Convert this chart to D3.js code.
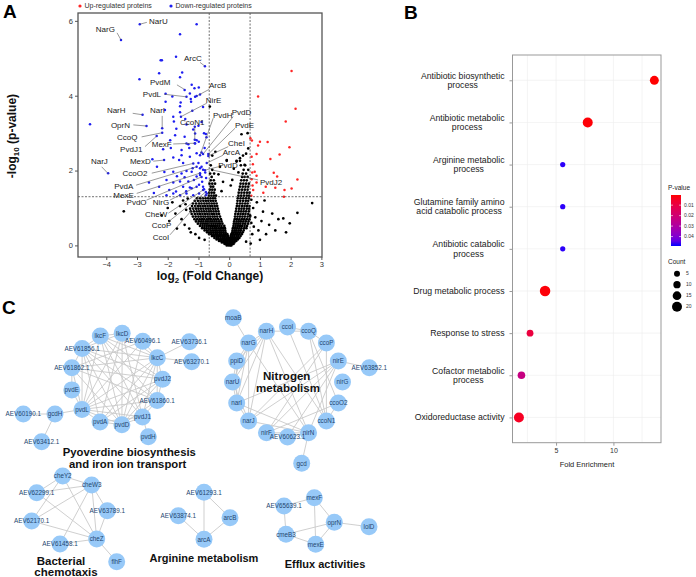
<!DOCTYPE html>
<html><head><meta charset="utf-8">
<script src="https://cdn.jsdelivr.net/npm/d3@7"></script>
<style>body{margin:0;background:#fff}svg{display:block}text{font-family:"Liberation Sans",Arial,sans-serif}</style>
</head><body><svg id="c" width="696" height="577"></svg>
<script>
// ---------------- Panel A data (log2 FC, -log10 p) ----------------
const xTicksA = [-4,-3,-2,-1,0,1,2,3];
const yTicksA = [0,2,4,6];
const fcCut = [-0.65, 0.68];
const pCut = 1.301;
// non-significant proteins, rows of [-log10 p, [log2FC ...]]
const nsRows = [
 [0.00,[-0.08,-0.02,0.03,0.07]],
 [0.04,[-0.15,-0.10,-0.05,0.00,0.05,0.10,0.14]],
 [0.08,[-0.24,-0.18,-0.12,-0.06,0.01,0.06,0.12,0.17]],
 [0.12,[-0.33,-0.26,-0.19,-0.13,-0.07,0.00,0.05,0.11,0.17,0.23]],
 [0.16,[-0.41,-0.34,-0.27,-0.20,-0.14,-0.08,-0.02,0.04,0.10,0.16,0.22,0.28]],
 [0.20,[-0.48,-0.41,-0.35,-0.28,-0.21,-0.15,-0.09,-0.03,0.03,0.09,0.15,0.21,0.27,0.33]],
 [0.25,[-0.56,-0.49,-0.42,-0.36,-0.30,-0.23,-0.17,-0.11,-0.04,0.05,0.11,0.17,0.24,0.30,0.37]],
 [0.30,[-0.65,-0.58,-0.51,-0.44,-0.38,-0.31,-0.25,-0.18,-0.12,-0.06,0.07,0.13,0.20,0.26,0.33,0.41]],
 [0.35,[-0.72,-0.65,-0.59,-0.52,-0.45,-0.39,-0.32,-0.26,-0.19,-0.12,0.10,0.16,0.22,0.29,0.36,0.44]],
 [0.40,[-0.80,-0.73,-0.66,-0.60,-0.53,-0.46,-0.40,-0.33,-0.27,-0.20,-0.13,0.11,0.18,0.24,0.31,0.38,0.47]],
 [0.46,[-0.88,-0.81,-0.74,-0.67,-0.61,-0.54,-0.47,-0.41,-0.34,-0.27,-0.20,-0.14,0.12,0.19,0.26,0.33,0.40,0.49,0.56]],
 [0.52,[-0.95,-0.87,-0.80,-0.73,-0.66,-0.59,-0.53,-0.46,-0.39,-0.32,-0.25,-0.16,0.14,0.21,0.28,0.35,0.42,0.50,0.58]],
 [0.58,[-1.02,-0.93,-0.86,-0.79,-0.72,-0.65,-0.58,-0.51,-0.44,-0.37,-0.30,-0.22,0.15,0.22,0.29,0.36,0.44,0.52,0.61]],
 [0.64,[-1.08,-0.99,-0.91,-0.84,-0.76,-0.69,-0.62,-0.55,-0.48,-0.41,-0.33,-0.25,0.16,0.24,0.31,0.38,0.46,0.54,0.63]],
 [0.70,[-1.13,-1.04,-0.96,-0.88,-0.81,-0.73,-0.66,-0.59,-0.51,-0.44,-0.36,-0.27,0.18,0.25,0.33,0.41,0.49,0.57,0.66]],
 [0.77,[-1.18,-1.09,-1.00,-0.92,-0.84,-0.77,-0.69,-0.62,-0.54,-0.47,-0.39,-0.30,0.19,0.27,0.35,0.43,0.51,0.60,0.68]],
 [0.84,[-1.22,-1.12,-1.03,-0.95,-0.87,-0.79,-0.71,-0.64,-0.56,-0.49,-0.41,-0.33,0.20,0.29,0.37,0.45,0.53,0.62]],
 [0.91,[-1.25,-1.15,-1.06,-0.98,-0.90,-0.82,-0.74,-0.66,-0.59,-0.51,-0.43,-0.35,0.22,0.31,0.39,0.47,0.55,0.64]],
 [0.98,[-1.27,-1.17,-1.08,-1.00,-0.92,-0.84,-0.76,-0.68,-0.61,-0.53,-0.45,-0.37,0.23,0.32,0.40,0.48,0.57,0.65]],
 [1.05,[-1.21,-1.11,-1.02,-0.94,-0.86,-0.78,-0.70,-0.62,-0.55,-0.47,-0.39,0.25,0.33,0.42,0.50,0.58,0.66]],
 [1.12,[-1.18,-1.08,-0.98,-0.90,-0.81,-0.73,-0.65,-0.57,-0.49,-0.41,0.26,0.35,0.43,0.52,0.60]],
 [1.19,[-1.12,-1.02,-0.93,-0.84,-0.76,-0.68,-0.60,-0.52,-0.44,0.27,0.36,0.45,0.54,0.62]],
 [1.26,[-1.05,-0.95,-0.86,-0.77,-0.69,-0.61,-0.53,-0.46,0.28,0.37,0.46,0.55,0.64]],
 [1.33,[-0.66,-0.58,-0.50,-0.43,0.30,0.39,0.48,0.57,0.65]],
 [1.41,[-0.65,-0.57,-0.49,0.31,0.40,0.49,0.58,0.66]],
 [1.49,[-0.63,-0.55,-0.47,0.33,0.42,0.51,0.60]],
 [1.57,[-0.60,-0.52,0.35,0.44,0.53,0.62]],
 [1.65,[-0.64,-0.55,-0.46,0.37,0.46,0.55,0.64]],
 [1.74,[-0.60,-0.50,0.39,0.48,0.57]],
 [1.83,[-0.57,0.42,0.50,0.60]],
 [1.92,[-0.62,-0.49,0.44,0.55]],
 [2.02,[-0.55,0.47,0.62]],
 [2.14,[-0.60,0.38,0.52]],
 [2.26,[-0.08,0.24,0.35]],
 [2.40,[-0.55,0.45]]
];
const nsExtra = [[-1.45,0.55],[-1.55,0.70],[-1.40,0.95],[-1.60,1.05],[-1.50,1.20],[-1.35,1.25],[-1.75,0.85],[-1.85,1.15],
 [-1.70,0.45],[-1.30,0.45],[-2.00,1.00],[-1.95,0.65],[-2.20,0.80],[-1.42,1.10],[-3.43,0.91],[-1.25,0.35],[-1.10,0.30],
 [-0.98,0.20],[-0.80,0.15],[0.75,0.30],[0.80,0.50],[0.85,0.75],[0.78,1.00],[0.90,1.15],[0.95,0.40],[1.05,0.65],[1.10,0.90],
 [1.20,0.30],[1.30,0.55],[1.15,1.20],[0.72,1.22],[1.40,0.85],[1.50,0.40],[1.60,0.70],[1.76,0.72],[1.97,0.59],[2.22,0.87],
 [2.70,1.13],[1.85,0.35],[0.70,0.05],[0.55,0.10],[1.00,0.15],[0.68,0.80],[0.72,0.60],[-0.63,3.71],[0.40,2.97],[0.62,2.59],
 [0.35,2.33],[0.24,2.24],[-0.08,2.28],[0.55,2.45],[0.15,2.05],[0.30,1.95],[-0.20,1.70],[0.10,1.75],[-0.35,1.90],[0.50,2.15],
 [-0.45,2.50],[0.60,3.00],[-0.30,2.10],[0.05,1.60],[-0.25,1.45]];
const downPts = [[-2.91,5.91],[-1.06,5.91],[-1.60,5.64],[-3.52,5.49],[-1.73,5.04],[-2.23,4.95],[-2.19,4.95],[-0.79,4.79],
 [-1.53,4.62],[-2.28,4.60],[-1.60,4.49],[-2.92,4.44],[-1.22,4.29],[-1.13,4.20],[-1.45,4.15],[-0.99,4.22],[-1.28,4.06],
 [-1.39,3.97],[-1.25,3.91],[-1.11,3.97],[-1.06,3.99],[-0.95,4.03],[-2.07,4.05],[-1.85,3.98],[-2.07,3.84],[-1.58,3.82],
 [-2.09,3.62],[-1.60,3.72],[-1.24,3.84],[-2.82,3.49],[-4.53,3.24],[-2.69,3.19],[-2.18,3.13],[-2.18,3.01],[-1.82,3.44],
 [-1.80,3.31],[-1.60,3.56],[-1.57,3.44],[-1.43,3.38],[-1.39,3.23],[-1.72,3.12],[-1.17,3.10],[-1.11,2.99],[-1.06,2.81],
 [-1.11,2.72],[-0.82,3.00],[-0.76,2.98],[-0.74,2.89],[-2.36,2.92],[-1.76,2.94],[-1.92,2.81],[-0.99,2.77],[-1.39,2.72],
 [-1.33,2.70],[-1.12,2.73],[-2.15,2.57],[-1.55,2.55],[-1.06,2.46],[-0.95,2.41],[-0.90,2.48],[-0.85,2.44],[-0.68,2.44],
 [-0.68,2.39],[-3.94,1.93],[-1.63,2.28],[-1.82,2.35],[-1.55,2.41],[-1.28,2.37],[-1.17,2.19],[-1.19,2.06],[-1.22,1.97],
 [-0.95,2.06],[-0.90,2.10],[-0.85,2.02],[-0.73,2.20],[-0.79,2.01],[-2.11,1.96],[-1.82,1.97],[-1.55,1.92],[-1.39,1.99],
 [-2.61,1.68],[-2.04,1.75],[-1.82,1.68],[-1.60,1.71],[-1.33,1.71],[-1.06,1.84],[-0.95,1.88],[-1.06,2.10],[-0.95,1.93],
 [-0.90,1.83],[-2.28,1.57],[-1.95,1.48],[-1.73,1.44],[-1.50,1.57],[-1.22,1.53],[-0.98,1.62],[-0.85,1.57],[-1.06,1.57],
 [-0.85,1.48],[-0.76,1.43],[-0.73,1.39],[-2.04,1.34],[-1.82,1.39],[-1.60,1.34],[-1.39,1.39],[-1.17,1.34],[-0.98,1.39],
 [-0.82,1.50],[-0.76,1.34],[-1.28,1.55],[-0.88,1.70],[-2.45,1.40],[-1.45,1.82],[-1.70,1.85],[-2.35,2.10],[-1.50,2.20],
 [-1.00,2.20],[-1.30,2.60],[-0.80,2.60],[-1.00,3.20],[-0.90,3.30],[-1.45,2.90],[-1.90,2.60],[-2.50,2.30],[-1.20,3.60],
 [-0.85,3.70],[-0.75,1.80],[-0.78,1.95],[-1.15,1.75],[-1.40,1.45],[-2.12,2.28],[-1.12,2.82],[-1.12,3.17]];
const upPts = [[2.03,4.66],[0.94,3.98],[2.16,3.65],[1.84,3.31],[0.69,2.86],[0.74,2.80],[1.00,2.77],[1.25,2.76],[0.94,2.67],
 [1.96,2.62],[1.64,2.43],[0.73,2.37],[0.89,2.44],[1.34,2.31],[0.77,2.17],[0.83,1.97],[0.75,1.95],[0.89,1.86],[1.45,1.94],
 [1.56,1.84],[2.22,1.76],[0.73,1.77],[0.89,1.68],[1.19,1.57],[1.50,1.54],[1.80,1.48],[2.03,1.52],[0.78,1.48],[1.11,1.41],
 [1.78,1.30],[0.72,1.33],[0.76,1.60]];
// labelled proteins: name, point (x,y), text anchor (tx,ty), leader start (lx,ly)
const volcLabels = [
 ["NarU",-2.91,5.91,-2.61,5.98,-2.68,5.96],["NarG",-3.52,5.49,-4.34,5.78,-3.65,5.68],
 ["ArcC",-0.79,4.79,-1.47,5.00,-0.95,4.89],["PvdM",-1.46,4.17,-2.58,4.35,-1.70,4.29],
 ["ArcB",-1.06,3.99,-0.66,4.29,-0.65,4.17],["PvdL",-1.39,3.97,-2.81,4.03,-2.12,4.04],
 ["NirE",-1.57,3.44,-0.76,3.89,-0.73,3.80],["NarH",-2.82,3.49,-3.98,3.60,-3.14,3.53],
 ["NarI",-2.18,3.13,-2.58,3.60,-2.18,3.46],["PvdH",-0.95,2.41,-0.53,3.48,-0.52,3.40],
 ["PvdD",-0.85,2.44,0.08,3.55,0.13,3.44],["CcoN1",-1.12,2.82,-1.60,3.28,-1.12,3.17],
 ["OprN",-2.69,3.19,-3.85,3.22,-3.12,3.22],["PvdE",-0.68,2.44,0.19,3.22,0.19,3.13],
 ["CcoQ",-2.18,3.01,-3.65,2.90,-2.85,2.90],["MexF",-1.12,2.73,-2.52,2.71,-1.82,2.71],
 ["CheI",-0.68,2.39,-0.04,2.74,-0.03,2.64],["PvdJ1",-2.36,2.92,-3.55,2.57,-2.74,2.64],
 ["ArcA",-0.73,2.20,-0.21,2.50,-0.20,2.41],["MexD",-2.12,2.28,-3.23,2.25,-2.47,2.25],
 ["NarJ",-3.93,1.91,-4.50,2.25,-4.15,2.10],["PvdD",-0.79,2.01,-0.36,2.13,-0.36,2.10],
 ["CcoO2",-1.17,2.19,-3.47,1.93,-2.52,1.93],["PvdJ2",-0.52,2.01,1.00,1.70,0.94,1.75],
 ["PvdA",-1.06,2.10,-3.74,1.57,-3.03,1.61],["MexE",-0.95,1.93,-3.77,1.34,-3.01,1.39],
 ["PvdO",-0.90,1.83,-3.34,1.15,-2.69,1.21],["NirG",-1.06,1.57,-2.49,1.15,-1.93,1.21],
 ["CheW",-0.85,1.48,-2.74,0.83,-1.98,0.86],["CcoP",-0.76,1.43,-2.52,0.54,-1.98,0.63],
 ["CcoI",-0.73,1.39,-2.49,0.21,-1.93,0.28]];

// ---------------- Panel B data ----------------
const goTerms = ["Antibiotic biosynthetic\nprocess","Antibiotic metabolic\nprocess","Arginine metabolic\nprocess",
 "Glutamine family amino\nacid catabolic process","Antibiotic catabolic\nprocess","Drug metabolic process",
 "Response to stress","Cofactor metabolic\nprocess","Oxidoreductase activity"];
const goEnrich = [13.57,7.76,5.58,5.58,5.58,4.04,2.73,1.98,1.76];
const goCount = [16,20,2,2,2,22,8,11,20];
const goP = [0.0004,0.0008,0.048,0.048,0.048,0.001,0.009,0.023,0.004];
const xTicksB = [5,10];
const pLegend = [0.01,0.02,0.03,0.04];
const countLegend = [5,10,15,20];

// ---------------- Panel C data (networks) ----------------
const pyoRing = ["lkcF","lkcD","AEV60496.1","lkcC","pvdJ2","AEV61860.1","pvdJ1","pvdD","pvdA","pvdL","pvdE","AEV61862.1","AEV61856.1"];
const pyoEdges = [["lkcF","lkcD"],["lkcF","AEV61856.1"],["lkcF","lkcC"],["lkcF","pvdJ2"],["lkcF","AEV61860.1"],["lkcF","pvdJ1"],["lkcF","pvdD"],["lkcF","pvdL"],
 ["lkcD","lkcC"],["lkcD","AEV61856.1"],["lkcD","pvdA"],["lkcD","pvdL"],["lkcD","pvdD"],["lkcD","pvdJ1"],
 ["AEV60496.1","lkcC"],["AEV60496.1","pvdL"],["AEV60496.1","AEV61862.1"],["AEV60496.1","pvdD"],
 ["lkcC","AEV61856.1"],["lkcC","AEV61862.1"],["lkcC","pvdL"],["lkcC","pvdA"],["lkcC","pvdD"],["lkcC","pvdJ2"],["lkcC","pvdJ1"],["lkcC","AEV61860.1"],
 ["lkcC","AEV63736.1"],["lkcC","AEV63270.1"],
 ["pvdJ2","AEV61856.1"],["pvdJ2","pvdL"],["pvdJ2","pvdA"],["pvdJ2","pvdD"],["pvdJ2","AEV61860.1"],["pvdJ2","AEV61862.1"],
 ["AEV61860.1","AEV61856.1"],["AEV61860.1","pvdL"],["AEV61860.1","pvdD"],["AEV61860.1","pvdJ1"],["AEV61860.1","AEV61862.1"],
 ["pvdJ1","AEV61856.1"],["pvdJ1","pvdL"],["pvdJ1","pvdD"],["pvdJ1","pvdA"],["pvdJ1","pvdH"],
 ["pvdD","AEV61856.1"],["pvdD","pvdL"],["pvdD","pvdA"],["pvdD","AEV61862.1"],
 ["pvdA","pvdL"],["pvdA","AEV61856.1"],["pvdL","pvdE"],["pvdL","AEV61856.1"],["pvdL","AEV61862.1"],["pvdL","gcdH"],
 ["pvdE","AEV61862.1"],["AEV61862.1","AEV61856.1"],["gcdH","AEV60190.1"],["gcdH","AEV63412.1"]];
const nitroRing = ["ccoI","ccoQ","ccoP","nirE","nirG","ccoO2","ccoN1","nirN","AEV60623.1","nirF","narJ","narI","narU","ppiD","narG","narH"];
const nitroEdges = [["narH","narG"],["narH","ppiD"],["narH","narU"],["narH","narI"],["narH","narJ"],["narH","nirN"],["narH","ccoQ"],["narH","ccoN1"],
 ["narG","ppiD"],["narG","narU"],["narG","narI"],["narG","narJ"],["narG","nirN"],["narG","moaB"],
 ["narU","narI"],["narU","narJ"],["narU","ppiD"],["narI","narJ"],["narI","nirN"],["narJ","nirN"],["narJ","nirE"],["narJ","ccoP"],
 ["ccoI","ccoN1"],["ccoI","ccoQ"],["ccoQ","ccoP"],["ccoQ","ccoN1"],["ccoQ","ccoO2"],["ccoP","ccoN1"],["ccoP","nirF"],
 ["nirE","nirF"],["nirE","AEV60623.1"],["nirE","nirN"],["nirE","AEV63852.1"],["nirE","narI"],["ccoO2","nirF"],["ccoO2","ccoN1"],
 ["nirN","gcd"],["nirN","AEV60623.1"],["nirN","nirF"],["ppiD","narI"]];
const chemoNodes = ["cheY2","cheW3","AEV62299.1","AEV63789.1","AEV62170.1","cheZ","AEV61458.1","flhF"];
const chemoEdges = [["cheY2","cheW3"],["cheY2","AEV62299.1"],["cheY2","cheZ"],["cheY2","AEV62170.1"],["cheW3","AEV62299.1"],
 ["cheW3","AEV63789.1"],["cheW3","cheZ"],["cheW3","AEV62170.1"],["cheW3","AEV61458.1"],["AEV62299.1","cheZ"],
 ["AEV63789.1","cheZ"],["AEV62170.1","cheZ"],["AEV61458.1","cheZ"],["cheZ","flhF"]];
const argNodes = ["AEV61293.1","AEV63874.1","arcB","arcA"];
const argEdges = [["AEV61293.1","arcB"],["AEV61293.1","arcA"],["arcB","arcA"],["AEV63874.1","arcA"]];
const effNodes = ["AEV65639.1","mexF","oprN","lolD","cmeB3","mexE"];
const effEdges = [["AEV65639.1","mexF"],["AEV65639.1","cmeB3"],["mexF","oprN"],["mexF","mexE"],["oprN","cmeB3"],["oprN","mexE"],["oprN","lolD"],["cmeB3","mexE"]];

// ---------------- Layout (positions, not data) ----------------
const rings = [
 {names: pyoRing, cx:116.5, cy:379, r:46, start:-20.6},
 {names: nitroRing, cx:287.5, cy:382, r:55, start:0}
];
const fixedPos = {
 "AEV63736.1":[189.3,341.7],"AEV63270.1":[191.7,361.7],"gcdH":[55,414],"AEV60190.1":[23.3,414],"AEV63412.1":[41.7,441.7],"pvdH":[148.3,436.7],
 "moaB":[233.3,317.7],"AEV63852.1":[369.3,367.7],"gcd":[301.7,463.3],
 "cheY2":[62.7,476],"cheW3":[91.7,485],"AEV62299.1":[36.7,492.7],"AEV63789.1":[107.3,510.7],"AEV62170.1":[31.7,521],
 "cheZ":[96.7,539],"AEV61458.1":[60,544],"flhF":[116.7,561.7],
 "AEV61293.1":[204,492.3],"AEV63874.1":[178.3,515.7],"arcB":[230,517.7],"arcA":[204,539.3],
 "AEV65639.1":[284,506],"mexF":[314.3,497.7],"oprN":[334.3,522.3],"lolD":[369,526.7],"cmeB3":[286,534.3],"mexE":[315.7,544.3]
};

const svg = d3.select("#c");
const F = '"Liberation Sans",Arial,sans-serif';

// ======== Panel A ========
const xA = d3.scaleLinear().domain([-4.92,3.02]).range([78,322]);
const yA = d3.scaleLinear().domain([-0.31,6.21]).range([257,13]);
const gA = svg.append("g");
gA.append("g").attr("transform","translate(0,257)")
  .call(d3.axisBottom(xA).tickValues(xTicksA).tickSize(3).tickPadding(2).tickFormat(d3.format("d")))
  .call(g=>{g.select(".domain").remove();g.selectAll("line").attr("stroke","#555");g.selectAll("text").attr("font-size",7.5).attr("fill","#333").attr("font-family",F);});
gA.append("g").attr("transform","translate(78,0)")
  .call(d3.axisLeft(yA).tickValues(yTicksA).tickSize(3).tickPadding(2).tickFormat(d3.format("d")))
  .call(g=>{g.select(".domain").remove();g.selectAll("line").attr("stroke","#555");g.selectAll("text").attr("font-size",7.5).attr("fill","#333").attr("font-family",F);});
const nsPts = nsRows.flatMap(([yv,xs])=>xs.map(xv=>[xv,yv])).concat(nsExtra);
gA.append("g").selectAll("circle").data(nsPts).join("circle")
  .attr("cx",d=>xA(d[0])).attr("cy",d=>yA(d[1])).attr("r",1.35).attr("fill","#000");
gA.append("g").selectAll("circle").data(downPts).join("circle")
  .attr("cx",d=>xA(d[0])).attr("cy",d=>yA(d[1])).attr("r",1.25).attr("fill","#1e1ef0");
gA.append("g").selectAll("circle").data(upPts).join("circle")
  .attr("cx",d=>xA(d[0])).attr("cy",d=>yA(d[1])).attr("r",1.25).attr("fill","#ff2626");
// threshold lines
fcCut.forEach(v=>gA.append("line").attr("x1",xA(v)).attr("x2",xA(v)).attr("y1",13).attr("y2",257)
  .attr("stroke","#333").attr("stroke-width",0.7).attr("stroke-dasharray","2,1.5"));
gA.append("line").attr("x1",78).attr("x2",322).attr("y1",yA(pCut)).attr("y2",yA(pCut))
  .attr("stroke","#333").attr("stroke-width",0.7).attr("stroke-dasharray","2,1.5");
// labels
gA.append("g").selectAll("line").data(volcLabels).join("line")
  .attr("x1",d=>xA(d[5])).attr("y1",d=>yA(d[6])).attr("x2",d=>xA(d[1])).attr("y2",d=>yA(d[2]))
  .attr("stroke","#555").attr("stroke-width",0.6);
gA.append("g").selectAll("text").data(volcLabels).join("text")
  .attr("x",d=>xA(d[3])).attr("y",d=>yA(d[4])).attr("dy","0.35em")
  .attr("font-size",8).attr("fill","#222").text(d=>d[0]);
gA.append("rect").attr("x",78).attr("y",13).attr("width",244).attr("height",244)
  .attr("fill","none").attr("stroke","#555").attr("stroke-width",1.3);
// legend
const legA = [["Up-regulated proteins","#ff2626",80],["Down-regulated proteins","#1e1ef0",171]];
legA.forEach(([t,c,x])=>{
  gA.append("circle").attr("cx",x).attr("cy",6).attr("r",1.6).attr("fill",c);
  gA.append("text").attr("x",x+4.5).attr("y",6).attr("dy","0.35em").attr("font-size",7).attr("fill","#333").text(t);
});
// axis titles
const yt = gA.append("text").attr("transform","translate(16,136) rotate(-90)").attr("text-anchor","middle")
  .attr("font-size",12).attr("font-weight","bold").attr("fill","#111");
yt.append("tspan").text("-log");
yt.append("tspan").attr("font-size",8).attr("dy",3).text("10");
yt.append("tspan").attr("dy",-3).text(" (p-value)");
const xt = gA.append("text").attr("x",210).attr("y",280).attr("text-anchor","middle")
  .attr("font-size",12).attr("font-weight","bold").attr("fill","#111");
xt.append("tspan").text("log");
xt.append("tspan").attr("font-size",8).attr("dy",3).text("2");
xt.append("tspan").attr("dy",-3).text(" (Fold Change)");

// ======== Panel B ========
const xB = d3.scaleLinear().domain([1.2,14.15]).range([512.5,661]);
const yB = d3.scalePoint().domain(goTerms).range([55,442.7]).padding(0.6);
const cB = d3.scaleLinear().domain([0.0003,0.049]).range(["#ff0000","#0000ff"]).interpolate(d3.interpolateLab);
const rB = d3.scaleLinear().domain([5,20]).range([3,5]);
const gB = svg.append("g");
[2.5,5,7.5,10,12.5].forEach(v=>gB.append("line").attr("x1",xB(v)).attr("x2",xB(v)).attr("y1",55).attr("y2",442.7)
  .attr("stroke","#ececec").attr("stroke-width",0.6));
goTerms.forEach(t=>gB.append("line").attr("x1",512.5).attr("x2",661).attr("y1",yB(t)).attr("y2",yB(t))
  .attr("stroke","#ececec").attr("stroke-width",0.6));
gB.append("g").attr("transform","translate(0,442.7)")
  .call(d3.axisBottom(xB).tickValues(xTicksB).tickSize(3).tickPadding(2))
  .call(g=>{g.select(".domain").remove();g.selectAll("line").attr("stroke","#999");g.selectAll("text").attr("font-size",7).attr("fill","#333").attr("font-family",F);});
gB.append("g").attr("transform","translate(512.5,0)")
  .call(d3.axisLeft(yB).tickSize(3).tickFormat(""))
  .call(g=>{g.select(".domain").remove();g.selectAll("line").attr("stroke","#999");});
goTerms.forEach(t=>{
  const lines = t.split("\n");
  const tx = gB.append("text").attr("font-size",8.7).attr("fill","#1a1a1a").attr("text-anchor","middle");
  const sp = lines.map((l,i)=>tx.append("tspan").attr("y",yB(t)+(i-(lines.length-1)/2)*9.4).attr("dy","0.35em").text(l));
  const w = d3.max(sp,s=>s.node().getComputedTextLength());
  sp.forEach(s=>s.attr("x",504.5-w/2));
});
gB.append("rect").attr("x",512.5).attr("y",55).attr("width",148.5).attr("height",387.7)
  .attr("fill","none").attr("stroke","#999").attr("stroke-width",1);
gB.append("g").selectAll("circle").data(goTerms).join("circle")
  .attr("cx",(d,i)=>xB(goEnrich[i])).attr("cy",d=>yB(d)).attr("r",(d,i)=>rB(goCount[i])).attr("fill",(d,i)=>cB(goP[i]));
gB.append("text").attr("x",587).attr("y",467).attr("text-anchor","middle").attr("font-size",7.5).attr("fill","#222").text("Fold Enrichment");
// legend
const cbY = d3.scaleLinear().domain([0.0003,0.049]).range([195,246]);
const defs = svg.append("defs");
const grad = defs.append("linearGradient").attr("id","cb").attr("x1",0).attr("x2",0).attr("y1",0).attr("y2",1);
d3.range(0,1.0001,0.1).forEach(t=>grad.append("stop").attr("offset",t).attr("stop-color",cB(cbY.invert(195+t*51))));
gB.append("text").attr("x",668).attr("y",190).attr("font-size",6.5).attr("fill","#222").text("P-value");
gB.append("rect").attr("x",671).attr("y",195).attr("width",10).attr("height",51).attr("fill","url(#cb)");
pLegend.forEach(p=>{
  gB.append("line").attr("x1",671).attr("x2",673).attr("y1",cbY(p)).attr("y2",cbY(p)).attr("stroke","#fff").attr("stroke-width",0.6);
  gB.append("line").attr("x1",679).attr("x2",681).attr("y1",cbY(p)).attr("y2",cbY(p)).attr("stroke","#fff").attr("stroke-width",0.6);
  gB.append("text").attr("x",684).attr("y",cbY(p)).attr("dy","0.35em").attr("font-size",5).attr("fill","#333").text(p);
});
gB.append("text").attr("x",668).attr("y",264).attr("font-size",6.5).attr("fill","#222").text("Count");
const cntY = d3.scalePoint().domain(countLegend).range([273.7,306.7]);
countLegend.forEach(c=>{
  gB.append("circle").attr("cx",677).attr("cy",cntY(c)).attr("r",rB(c)).attr("fill","#000");
  gB.append("text").attr("x",686).attr("y",cntY(c)).attr("dy","0.35em").attr("font-size",5).attr("fill","#333").text(c);
});

// ======== Panel C ========
const pos = Object.assign({}, fixedPos);
rings.forEach(rg=>{
  const ang = d3.scaleLinear().domain([0,rg.names.length]).range([rg.start, rg.start+360]);
  rg.names.forEach((n,i)=>{const a=ang(i)*Math.PI/180; pos[n]=[rg.cx+rg.r*Math.sin(a), rg.cy-rg.r*Math.cos(a)];});
});
const allEdges = pyoEdges.concat(nitroEdges,chemoEdges,argEdges,effEdges);
const allNodes = pyoRing.concat(["AEV63736.1","AEV63270.1","gcdH","AEV60190.1","AEV63412.1","pvdH"],
  nitroRing,["moaB","AEV63852.1","gcd"],chemoNodes,argNodes,effNodes);
const gC = svg.append("g");
gC.append("g").selectAll("line").data(allEdges).join("line")
  .attr("x1",d=>pos[d[0]][0]).attr("y1",d=>pos[d[0]][1]).attr("x2",d=>pos[d[1]][0]).attr("y2",d=>pos[d[1]][1])
  .attr("stroke","#c9c9c9").attr("stroke-width",0.9);
gC.append("g").selectAll("circle").data(allNodes).join("circle")
  .attr("cx",d=>pos[d][0]).attr("cy",d=>pos[d][1]).attr("r",8.5).attr("fill","#97c9f8");
gC.append("g").selectAll("text").data(allNodes).join("text")
  .attr("x",d=>pos[d][0]).attr("y",d=>pos[d][1]).attr("dy","0.35em").attr("text-anchor","middle")
  .attr("font-size",6.3).attr("fill","#24466f").text(d=>d);
const titles = [
 ["Pyoverdine biosynthesis",129.3,456,11.3],["and iron ion transport",127.7,467.5,11.3],
 ["Nitrogen",286.7,379.5,11.5],["metabolism",288,391.5,11.5],
 ["Bacterial",61,565,11.5],["chemotaxis",66,576,11.5],
 ["Arginine metabolism",204,562,11],["Efflux activities",325,568,11]];
titles.forEach(([t,x,y,s])=>gC.append("text").attr("x",x).attr("y",y).attr("text-anchor","middle")
  .attr("font-size",s).attr("font-weight","bold").attr("fill","#111").text(t));

// panel letters
[["A",3,18],["B",404,18.5],["C",2,314]].forEach(([t,x,y])=>svg.append("text").attr("x",x).attr("y",y)
  .attr("font-family",'"Liberation Serif","Times New Roman",serif').attr("font-weight","bold").attr("font-size",19).attr("fill","#000").text(t));
</script></body></html>
